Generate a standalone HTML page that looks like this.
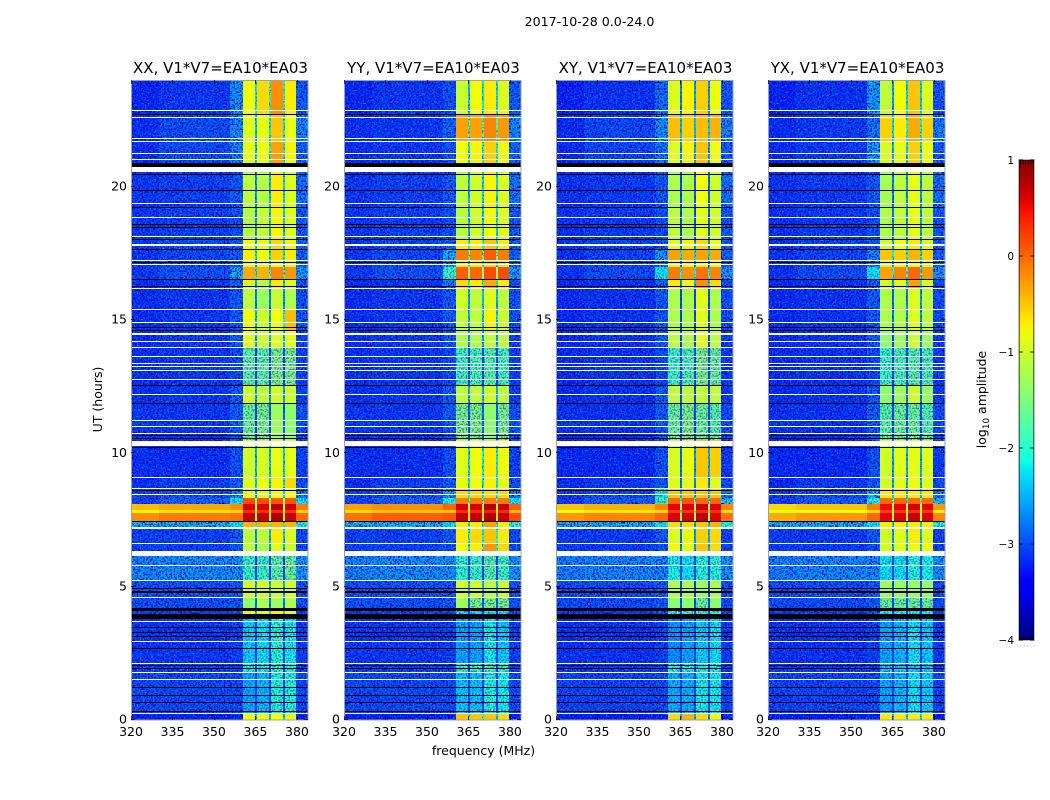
<!DOCTYPE html>
<html>
<head>
<meta charset="utf-8">
<style>
html,body{margin:0;padding:0;background:#fff;width:1050px;height:800px;overflow:hidden}
svg{display:block}
text{font-family:"DejaVu Sans","Liberation Sans",sans-serif;fill:#000}
</style>
</head>
<body>
<svg id="chart" xmlns="http://www.w3.org/2000/svg" width="1050" height="800" viewBox="0 0 1050 800">
  <defs>
    <filter id="noise-dark" x="0" y="0" width="100%" height="100%" color-interpolation-filters="sRGB">
      <feTurbulence type="fractalNoise" baseFrequency="0.62" numOctaves="1" seed="4"/>
      <feColorMatrix type="matrix" values="0 0 0 0 0  0 0 0 0 0  0 0 0 0 0.72  5 0 0 0 -2.3"/>
    </filter>
    <filter id="noise-light" x="0" y="0" width="100%" height="100%" color-interpolation-filters="sRGB">
      <feTurbulence type="fractalNoise" baseFrequency="0.62" numOctaves="1" seed="11"/>
      <feColorMatrix type="matrix" values="0 0 0 0 0  0 0 0 0 0.6  0 0 0 0 1  0 5 0 0 -2.9"/>
    </filter>
    <linearGradient id="colorbar-gradient" x1="0" y1="1" x2="0" y2="0"></linearGradient>
  </defs>
  <text x="589.5" y="26" font-size="12.6" text-anchor="middle">2017-10-28 0.0-24.0</text>
  <text x="483.5" y="755" font-size="12.5" text-anchor="middle">frequency (MHz)</text>
  <text x="0" y="0" font-size="12.5" text-anchor="middle" transform="translate(102 399.5) rotate(-90)">UT (hours)</text>
  <text x="0" y="0" font-size="12.5" text-anchor="middle" transform="translate(986 399.5) rotate(-90)">log<tspan font-size="8.8" dy="3">10</tspan><tspan dy="-3"> amplitude</tspan></text>
  <g id="panels"></g>
  <g id="colorbar"></g>
</svg>
<script>
// ---- chart data ----
const panelTitles = ["XX, V1*V7=EA10*EA03", "YY, V1*V7=EA10*EA03", "XY, V1*V7=EA10*EA03", "YX, V1*V7=EA10*EA03"];
const xTicks = [320, 335, 350, 365, 380];
const yTicks = [0, 5, 10, 15, 20];
const colorTicks = [1, 0, -1, -2, -3, -4];
const freqEdges = [320, 330, 355.7, 360.4, 364.8, 365.6, 369.8, 370.5, 374.8, 375.6, 379.7, 384];
const utEdges = [24, 22.69, 21.72, 20.87, 19.2, 18, 17.64, 17.2, 16.99, 16.49, 16.2, 15.36, 14.6, 13.94, 12.53, 11.85, 10.5, 9.06, 8.65, 8.32, 8.1, 7.88, 7.76, 7.43, 7.19, 6.59, 6.2, 5.21, 4.56, 4.1, 3.79, 2.1, 1.75, 0.28, 0];

const leftLevel = [-3.15, -3.1, -3.1, -3.05, -3.05, -3.05, -3.05, -3.05, -3.05, -3.1, -3.1, -3.1, -3.1, -3.1, -3.1, -3.05, -3.1, -3.1, -3, -3, -0.45, -0.75, -0.2, -2.4, -3, -3, -2.6, -2.9, -2.9, -3, -3.05, -3, -2.95, -3.2];
const midLevel = [-3.05, -3.05, -3.05, -3, -3, -2.95, -2.95, -2.95, -2.9, -3.05, -3.05, -3.05, -3.05, -3.05, -3.05, -3.05, -3.1, -3, -2.9, -2.8, -0.35, -0.65, -0.1, -2.4, -3, -3, -2.55, -2.9, -2.9, -3, -3.05, -3, -2.95, -3.2];
const tailLevel = [-2.85, -2.6, -2.8, -2.7, -2.85, -2.8, -2.8, -2.8, -2.5, -2.9, -2.9, -2.9, -3, -3, -3, -2.9, -3, -2.9, -2.7, -2.2, -0.1, -0.6, 0, -2, -2.95, -2.95, -2.5, -2.9, -2.9, -3, -3, -3, -2.95, -3.2];

const rampXX = [-2.55, -2.6, -2.65, -2.85, -2.9, -2.85, -2.85, -2.85, -2.4, -2.8, -2.85, -2.85, -2.85, -2.95, -2.85, -2.85, -2.9, -2.85, -2.6, -2.2, -0.2, -0.6, -0.05, -2.2, -2.85, -2.9, -2.55, -2.85, -2.85, -2.9, -3, -3, -2.95, -3.2];
const rampYY = [-2.9, -2.8, -2.9, -2.85, -2.9, -2.8, -2.4, -2.5, -1.9, -2.7, -2.85, -2.85, -2.85, -2.95, -2.85, -2.85, -2.9, -2.85, -2.5, -2.1, 0, -0.5, 0.1, -2.2, -2.85, -2.9, -2.55, -2.85, -2.85, -2.9, -3, -3, -2.95, -3.2];
const rampXY = [-2.75, -2.55, -2.7, -2.85, -2.9, -2.85, -2.5, -2.7, -2.2, -2.8, -2.85, -2.85, -2.85, -2.95, -2.85, -2.85, -2.9, -2.85, -2.2, -1.8, -0.15, -0.6, 0, -2.2, -2.85, -2.9, -2.6, -2.85, -2.85, -2.9, -3, -3, -2.95, -3.2];
const rampYX = [-2.5, -2.7, -2.5, -2.85, -2.9, -2.85, -2.6, -2.7, -2.2, -2.8, -2.85, -2.85, -2.85, -2.95, -2.85, -2.85, -2.9, -2.85, -2.4, -2, -0.1, -0.6, 0, -2.2, -2.85, -2.9, -2.6, -2.85, -2.85, -2.9, -3, -3, -2.95, -3.2];

const subXX = [[-.8,-.6,-.2,-.7],[-.9,-.85,-.5,-.8],[-.85,-.8,-.3,-.75],[-1.1,-1.15,-.7,-.9],[-1.15,-1.05,-.75,-.9],[-.8,-.8,-.6,-.75],[-.7,-.8,-.55,-.7],[-.9,-.9,-.8,-.9],[-.35,-.4,-.15,-.25],[-.9,-1.1,-.7,-.9],[-1.1,-1.3,-1.05,-1.2],[-.8,-1,-.8,-.45],[-.9,-1,-.9,-.85],[-1.7,-1.7,-1.5,-1.5],[-1,-1.1,-1,-1],[-1.6,-1.5,-1.3,-1.4],[-1,-.95,-.85,-.85],[-.9,-.8,-.75,-.6],[-.9,-.9,-.8,-.8],[.15,.15,.1,.1],[.6,.6,.75,.65],[.3,.3,.35,.3],[.7,.7,.8,.7],[-.4,-.4,-.4,-.4],[-1.1,-1.1,-.7,-.9],[-1.1,-1.2,-.9,-1],[-1.9,-1.9,-1.7,-1.6],[-.95,-.95,-1,-.95],[-1.4,-1.2,-1.3,-1.2],[-.9,-.9,-.7,-.9],[-2.3,-2.2,-2,-2.15],[-2.1,-2.1,-2,-2],[-2.5,-2.4,-2.05,-2.05],[-.8,-.75,-.8,-.85]];
const subYY = [[-1.05,-.8,-.7,-.9],[-.3,-.3,-.15,-.25],[-.8,-.75,-.55,-.8],[-1.1,-1,-.75,-.9],[-1.15,-1,-.8,-.9],[-.7,-.7,-.5,-.7],[-.1,-.15,.05,-.1],[-.7,-.7,-.6,-.7],[.05,0,.15,.15],[-.6,-.7,-.35,-.7],[-1,-1.1,-.9,-1.1],[-1.1,-1.1,-.75,-1],[-1.2,-1.2,-1.1,-1.1],[-1.85,-1.8,-1.7,-1.8],[-1.1,-1.1,-1,-1.1],[-1.5,-1.5,-1.4,-1.5],[-.9,-.8,-.7,-.8],[-.85,-.8,-.75,-.85],[-.6,-.6,-.6,-.6],[-.1,-.1,-.1,-.1],[.65,.65,.8,.7],[.35,.35,.4,.35],[.7,.7,.8,.7],[-.7,-.7,-.3,-.7],[-.7,-.6,-.5,-.7],[-.8,-.7,-.25,-.6],[-1.95,-1.9,-1.75,-1.85],[-1,-1,-1.1,-1],[-1.3,-1.5,-1.5,-1.5],[-2.2,-2.2,-2.2,-2.2],[-2.5,-2.5,-2.15,-2.3],[-1.9,-1.9,-1.9,-1.9],[-2.35,-2.35,-2.05,-2.15],[-.5,-.5,-.5,-.6]];
const subXY = [[-.9,-.75,-.55,-.8],[-.45,-.55,-.45,-.4],[-.9,-.75,-.5,-.8],[-1.2,-1.2,-.8,-1],[-1.1,-1.2,-.9,-1],[-.9,-.75,-.6,-.8],[-.3,-.35,-.3,-.35],[-.9,-.85,-.75,-.85],[-.1,-.2,-.05,-.15],[-.7,-.8,-.2,-.6],[-1.2,-1.2,-.9,-1.2],[-1.2,-1.2,-.9,-1.2],[-1.1,-1.2,-.9,-1.1],[-1.9,-1.8,-1.5,-1.6],[-1.1,-1.1,-1.1,-1.1],[-1.6,-1.5,-1.6,-1.7],[-.95,-.85,-.5,-.55],[-.9,-.9,-.7,-.9],[-.5,-.5,-.5,-.5],[0,.1,0,0],[.55,.6,.7,.6],[.25,.3,.35,.3],[.6,.65,.75,.6],[-.6,-.6,-.5,-.4],[-.9,-.85,-.55,-.6],[-.8,-.9,-.5,-.6],[-2.1,-2.2,-2,-2],[-1.2,-1.2,-1.3,-1.2],[-1.4,-1.4,-1.6,-1.4],[-1.9,-1.9,-1.9,-1.9],[-2.6,-2.5,-2.3,-2.2],[-2.1,-2.1,-2.1,-2.1],[-2.45,-2.45,-2.15,-2.15],[-.6,-.4,-.6,-.8]];
const subYX = [[-1.1,-.8,-.5,-.9],[-.55,-.7,-.35,-.55],[-.95,-.85,-.55,-.8],[-1.25,-1.1,-.85,-1.1],[-1.2,-1.1,-.85,-1.1],[-1,-.8,-.7,-.9],[-.5,-.55,-.4,-.55],[-1,-.9,-.8,-.95],[-.3,-.15,0,-.25],[-1,-.9,-.3,-.9],[-1.2,-1.2,-.9,-1.1],[-1.2,-1.2,-.9,-1.1],[-1.4,-1.3,-1,-1.3],[-1.9,-1.8,-1.7,-1.8],[-1.4,-1.3,-1,-1.3],[-1.7,-1.6,-1.6,-1.7],[-1,-.9,-.85,-.9],[-1,-.9,-.8,-.9],[-.7,-.7,-.7,-.7],[0,0,0,0],[.5,.55,.65,.55],[.2,.25,.3,.25],[.55,.6,.7,.6],[-.7,-.7,-.7,-.7],[-1,-.9,-.7,-.9],[-1,-.9,-.8,-.8],[-2.2,-2.2,-2,-2.1],[-1.3,-1.3,-1.3,-1.3],[-1.6,-1.6,-1.6,-1.6],[-2.1,-2.1,-2.1,-2.1],[-2.5,-2.4,-2.2,-2.3],[-2.3,-2.3,-2.3,-2.3],[-2.5,-2.4,-2.2,-2.3],[-.7,-.7,-.7,-.7]];

// flagged (white) and missing (black) time ranges: [UT start, duration in hours]
const flaggedWhite = [[22.85,.04],[22.58,.04],[21.78,.04],[21.68,.04],[21.23,.04],[20.99,.04],[20.56,.16],[19.36,.04],[18.83,.04],[18.1,.04],[17.79,.07],[17.21,.04],[17.07,.04],[16.15,.04],[15.36,.04],[14.88,.04],[14.44,.09],[14.16,.04],[13.94,.04],[13.6,.04],[13.34,.04],[13.24,.04],[13.09,.04],[12.74,.04],[12.18,.04],[11.21,.04],[10.99,.04],[10.74,.04],[10.28,.17],[9.06,.04],[8.65,.04],[8.44,.04],[7.17,.07],[6.59,.04],[6.15,.19],[5.76,.04],[5.21,.04],[4.56,.04],[3.66,.04],[2.91,.04],[2.1,.04],[1.75,.04],[1.5,.04],[0.24,.04]];
const missingBlack = [[22.67,.07],[20.75,.12],[20.43,.04],[19.84,.04],[19.21,.04],[18.55,.04],[18.46,.04],[18,.04],[17.64,.04],[17.13,.04],[16.49,.04],[16.23,.04],[14.71,.04],[14.59,.04],[12.53,.04],[11.85,.04],[10.65,.04],[10.53,.04],[10.19,.04],[8.58,.04],[7.43,.04],[4.9,.04],[4.75,.08],[4.1,.09],[3.79,.17],[3.46,.04],[3.25,.04],[3.12,.04],[2.65,.04],[2.04,.04],[1.92,.04],[1.21,.04],[.9,.04],[.63,.04],[.31,.04]];
const streakBands = [1, 2];
const streakBoost = [0.12, 0, 0.12, 0.05];

// ---- layout ----
const NS = "http://www.w3.org/2000/svg";
const panelLeft = [131, 344, 556, 768];
const panelWidth = 177, plotTop = 80, plotBottom = 720;
const rampSets = [rampXX, rampYY, rampXY, rampYX];
const subSets = [subXX, subYY, subXY, subYX];
const panelKeys = ["xx", "yy", "xy", "yx"];
const backgroundZones = [0, 1, 2, 10];
const bgShift = [0, 0, -0.03, -0.03];
const strongShift = [0, 0.15, -0.05, -0.15];
const gapDrop = [1.5, 1.4, 1.9, 1.6];

function xScale(panel, f) { return panelLeft[panel] + (f - 320) / 64 * panelWidth; }
function yScale(ut) { return plotBottom - ut / 24 * (plotBottom - plotTop); }

const jetR = [[0, 0], [0.35, 0], [0.66, 1], [0.89, 1], [1, 0.5]];
const jetG = [[0, 0], [0.125, 0], [0.375, 1], [0.64, 1], [0.91, 0], [1, 0]];
const jetB = [[0, 0.5], [0.11, 1], [0.34, 1], [0.65, 0], [1, 0]];
function channel(stops, t) {
  for (let i = 1; i < stops.length; i++) {
    if (t <= stops[i][0]) {
      const a = stops[i - 1], c = stops[i];
      return a[1] + (c[1] - a[1]) * (t - a[0]) / (c[0] - a[0]);
    }
  }
  return stops[stops.length - 1][1];
}
function jet(v) {
  const t = Math.max(0, Math.min(1, (v + 4) / 5));
  return "rgb(" + Math.round(255 * channel(jetR, t)) + "," + Math.round(255 * channel(jetG, t)) + "," + Math.round(255 * channel(jetB, t)) + ")";
}

function makeEl(tag, attrs, parent) {
  const el = document.createElementNS(NS, tag);
  for (const k in attrs) el.setAttribute(k, attrs[k]);
  parent.appendChild(el);
  return el;
}

function shiftBg(level, p) {
  return level > -1.5 ? level + strongShift[p] : level + bgShift[p];
}

const panelsRoot = document.getElementById("panels");
const defs = document.querySelector("defs");

panelTitles.forEach(function (title, p) {
  const key = panelKeys[p];
  const g = makeEl("g", {}, panelsRoot);
  
  

  const clipLow = makeEl("clipPath", { id: "low-" + key }, defs);
  const clipMid = makeEl("clipPath", { id: "mid-" + key }, defs);
  const x0 = panelLeft[p], x1 = x0 + panelWidth;

  for (let b = 0; b < utEdges.length - 1; b++) {
    const subs = subSets[p][b];
    const gap1 = Math.max(-3, (subs[0] + subs[1]) / 2 - gapDrop[p]);
    const gap2 = Math.max(-3, (subs[1] + subs[2]) / 2 - gapDrop[p]);
    const gap3 = Math.max(-3, (subs[2] + subs[3]) / 2 - gapDrop[p]);
    const boost = streakBands.indexOf(b) >= 0 ? streakBoost[p] : 0;
    const zoneValues = [shiftBg(leftLevel[b], p), shiftBg(midLevel[b], p) + boost, rampSets[p][b], subs[0], gap1, subs[1], gap2, subs[2], gap3, subs[3], shiftBg(tailLevel[b], p)];
    const yA = Math.round(yScale(utEdges[b]));
    const yB = Math.round(yScale(utEdges[b + 1]));
    zoneValues.forEach(function (v, z) {
      const xA = Math.round(xScale(p, freqEdges[z]));
      const xB = Math.round(xScale(p, freqEdges[z + 1]));
      const cell = makeEl("rect", { x: xA, y: yA, width: xB - xA, height: yB - yA, fill: jet(v), "shape-rendering": "crispEdges" }, g);
      
      
      if (backgroundZones.indexOf(z) >= 0 && v < -2.2) {
        makeEl("rect", { x: xA, y: yA, width: xB - xA, height: yB - yA }, clipLow);
      } else if (v < -1.4) {
        makeEl("rect", { x: xA, y: yA, width: xB - xA, height: yB - yA }, clipMid);
      }
    });
  }

  const lowGroup = makeEl("g", { "clip-path": "url(#low-" + key + ")" }, g);
  const darkNoise = makeEl("rect", { x: x0, y: plotTop, width: panelWidth, height: plotBottom - plotTop, filter: "url(#noise-dark)" }, lowGroup);
  
  
  const lightNoise = makeEl("rect", { x: x0, y: plotTop, width: panelWidth, height: plotBottom - plotTop, filter: "url(#noise-light)" }, lowGroup);
  
  

  const midGroup = makeEl("g", { "clip-path": "url(#mid-" + key + ")", opacity: 0.5 }, g);
  const midNoise = makeEl("rect", { x: x0, y: plotTop, width: panelWidth, height: plotBottom - plotTop, filter: "url(#noise-dark)" }, midGroup);
  
  

  missingBlack.forEach(function (r) {
    const yA = Math.round(yScale(r[0] + r[1]));
    const h = Math.max(1, Math.round(yScale(r[0])) - yA);
    const line = makeEl("rect", { x: x0, y: yA, width: panelWidth, height: h, fill: "#000", "shape-rendering": "crispEdges" }, g);
    
    
  });
  flaggedWhite.forEach(function (r) {
    const yA = Math.round(yScale(r[0] + r[1]));
    const h = Math.max(1, Math.round(yScale(r[0])) - yA);
    const line = makeEl("rect", { x: x0 + 1, y: yA, width: panelWidth - 1, height: h, fill: "#fff", "shape-rendering": "crispEdges" }, g);
    
    
  });

  const frame = makeEl("rect", { x: x0 + 0.5, y: plotTop + 0.5, width: panelWidth - 0.5, height: plotBottom - plotTop - 0.5, fill: "none", stroke: "#a0a0a0", "stroke-width": 1 }, g);
  
  

  const tt = makeEl("text", { x: x0 + panelWidth / 2 + 1, y: 73, "font-size": 15, "text-anchor": "middle" }, g);
  tt.textContent = title;
  
  

  xTicks.forEach(function (t) {
    const x = Math.round(xScale(p, t)) + 0.5;
    const tb = makeEl("line", { x1: x, x2: x, y1: plotBottom, y2: plotBottom - 4, stroke: "#000", "stroke-width": 0.7 }, g);
    
    
    const tu = makeEl("line", { x1: x, x2: x, y1: plotTop, y2: plotTop + 4, stroke: "#000", "stroke-width": 0.7 }, g);
    
    
    const lab = makeEl("text", { x: xScale(p, t), y: 736, "font-size": 12.5, "text-anchor": "middle" }, g);
    lab.textContent = t;
    
    
  });
  yTicks.forEach(function (t) {
    const y = Math.round(yScale(t)) - 0.5;
    const tl = makeEl("line", { x1: x0, x2: x0 + 4, y1: y, y2: y, stroke: "#000", "stroke-width": 0.7 }, g);
    
    
    const tr = makeEl("line", { x1: x1, x2: x1 - 4, y1: y, y2: y, stroke: "#000", "stroke-width": 0.7 }, g);
    
    
    const lab = makeEl("text", { x: x0 - 4, y: yScale(t) + 3.7, "font-size": 12.5, "text-anchor": "end" }, g);
    lab.textContent = t;
    
    
  });
});

// ---- colorbar ----
const cb = document.getElementById("colorbar");
const cbX = 1019, cbW = 15, cbTop = 160, cbBottom = 640;
function cbScale(v) { return cbBottom - (v + 4) / 5 * (cbBottom - cbTop); }
const grad = document.getElementById("colorbar-gradient");
colorTicks.slice().reverse().forEach(function (t, i, arr) {
  if (i === arr.length - 1) return;
  for (let s = 0; s < 8; s++) {
    const v = t + s / 8;
    makeEl("stop", { offset: ((v + 4) / 5 * 100).toFixed(2) + "%", "stop-color": jet(v) }, grad);
  }
});
makeEl("stop", { offset: "100%", "stop-color": jet(1) }, grad);

const cbFill = makeEl("rect", { x: cbX, y: cbTop, width: cbW, height: cbBottom - cbTop, fill: "url(#colorbar-gradient)", stroke: "#000", "stroke-width": 1 }, cb);


const cbFrame = makeEl("rect", { x: cbX - 0.5, y: cbTop - 0.5, width: cbW + 1, height: cbBottom - cbTop + 1, fill: "none", stroke: "#bbb", "stroke-width": 1 }, cb);



colorTicks.forEach(function (t) {
  const y = cbScale(t);
  const a = makeEl("line", { x1: cbX, x2: cbX + 4, y1: y, y2: y, stroke: "#000", "stroke-width": 0.8 }, cb);
  
  
  const c = makeEl("line", { x1: cbX + cbW - 4, x2: cbX + cbW, y1: y, y2: y, stroke: "#000", "stroke-width": 0.8 }, cb);
  
  
  const lab = makeEl("text", { x: 1014, y: y + 3.8, "font-size": 10.5, "text-anchor": "end" }, cb);
  lab.textContent = String(t).replace("-", "\u2212");
  
  
});

const cbMinor = [0, 1, 2, 3, 4, 5];
cbMinor.forEach(function (n) {
  const x = cbX + 1.5 + n * 2.6;
  const top = makeEl("line", { x1: x, x2: x, y1: cbTop, y2: cbTop + 4, stroke: "#000", "stroke-width": 0.7 }, cb);
  
  
  const bot = makeEl("line", { x1: x, x2: x, y1: cbBottom, y2: cbBottom - 4, stroke: "#000", "stroke-width": 0.7 }, cb);
  
  
  const dot = makeEl("rect", { x: 1017.5 + n * 3.2, y: 645.5, width: 1, height: 1, fill: "#aaa" }, cb);
  
  
});
</script>
</body>
</html>
